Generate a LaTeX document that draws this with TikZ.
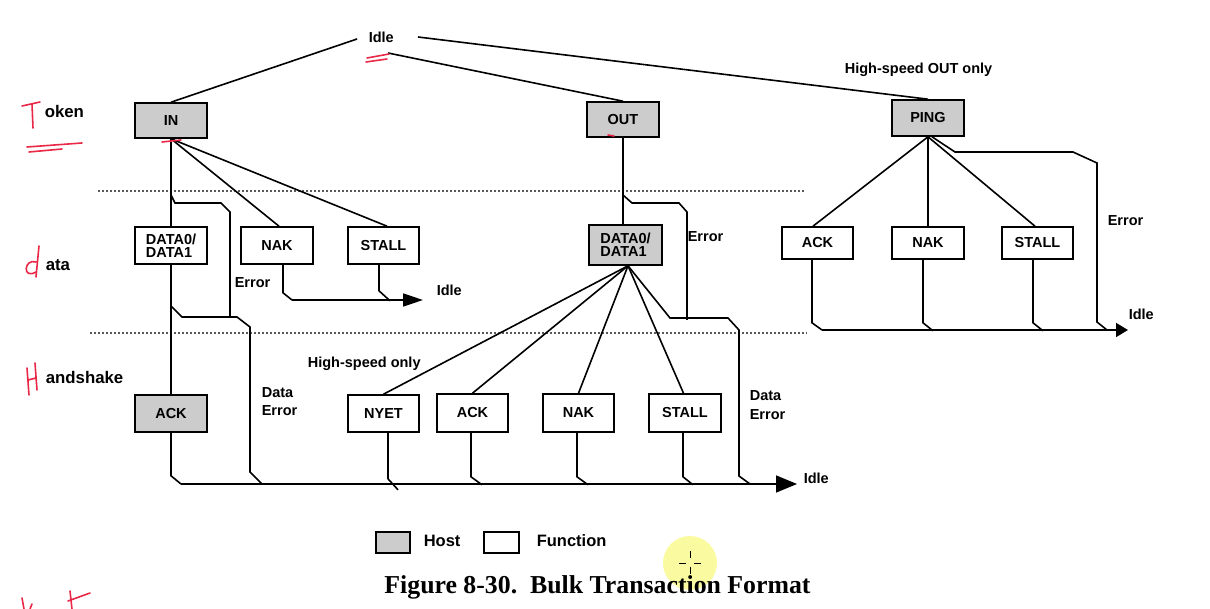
\documentclass[tikz,border=0pt]{standalone}
\usepackage{fontspec}
\setmainfont{Liberation Sans}
\newfontfamily\capfont{Liberation Serif}
\usetikzlibrary{arrows.meta}
\definecolor{boxgray}{RGB}{204,204,204}
\definecolor{penred}{RGB}{232,40,70}
\definecolor{cursor}{RGB}{250,250,160}
\begin{document}
\begin{tikzpicture}[x=1pt,y=-1pt,line width=1.6pt,
  box/.style={draw,line width=1.6pt,inner sep=0pt,minimum width=71pt,
    font=\bfseries\fontsize{14.5}{13}\selectfont,align=left},
  host/.style={box,fill=boxgray},
  func/.style={box,fill=white},
  lbl/.style={anchor=base west,inner sep=0pt,align=left,
    font=\bfseries\fontsize{14.5}{18}\selectfont},
  side/.style={lbl,font=\bfseries\fontsize{16.8}{18}\selectfont},
  leg/.style={lbl,font=\bfseries\fontsize{16.5}{18}\selectfont},
  sep/.style={line width=1.2pt,black!65,dash pattern=on 1.5pt off 2.5pt},
  pen/.style={draw=penred,line width=1.6pt,line cap=round,line join=round},
  bigtip/.style={-{Triangle[length=21pt,width=17pt]}},
  midtip/.style={-{Triangle[length=20pt,width=13pt]}},
  smalltip/.style={-{Triangle[length=12pt,width=14pt]}}
]
\useasboundingbox (0,0) rectangle (1210,609);

% cursor highlight
\fill[cursor] (690,563) circle (27);
\draw[line width=0.8pt] (690,551) -- (690,558) (690,567) -- (690,574)
  (679,563) -- (686,563) (694,563) -- (701,563);

% separators
\draw[sep] (98,191) -- (805,191);
\draw[sep] (90,333) -- (807,333);

% token row
\node[host,minimum height=35pt,minimum width=72pt] (in)   at (171,120.5) {IN};
\node[host,minimum height=35pt,minimum width=72pt] (out)  at (623,119.5) {OUT};
\node[host,minimum height=36pt,minimum width=72pt] (ping) at (928,118) {PING};

% data row
\node[func,minimum height=37pt,minimum width=72pt] (d1)     at (171,245.5) {DATA0/\\DATA1};
\node[func,minimum height=37pt,minimum width=72pt] (nak1) at (277,245.5) {NAK};
\node[func,minimum height=37pt] (stall1) at (383.5,245.5) {STALL};
\node[host,minimum height=40pt,minimum width=73pt] (d2) at (625.5,245) {DATA0/\\DATA1};
\node[func,minimum height=32pt] (ack3)   at (817.5,243) {ACK};
\node[func,minimum height=32pt,minimum width=72pt] (nak3)   at (928,243) {NAK};
\node[func,minimum height=32pt] (stall3) at (1037.5,243) {STALL};

% handshake row
\node[host,minimum height=37pt,minimum width=72pt] (ack1)   at (171,413.5) {ACK};
\node[func,minimum height=37pt] (nyet)   at (383.5,413.5) {NYET};
\node[func,minimum height=38pt] (ack2)   at (472.5,413) {ACK};
\node[func,minimum height=38pt] (nak2)   at (578.5,413) {NAK};
\node[func,minimum height=38pt,minimum width=72pt] (stall2) at (685,413) {STALL};

% labels
\node[lbl] (idle0) at (368,43) {Idle};
\node[side] (tok) at (44,118) {oken};
\node[side] (dat) at (45,271) {ata};
\node[side] (hsk) at (45,384) {andshake};
\node[lbl] (hsout) at (844,74) {High-speed OUT only};
\node[lbl] (err1) at (234,288) {Error};
\node[lbl] (idle1) at (436,296) {Idle};
\node[lbl] (err2) at (687,242) {Error};
\node[lbl] (err3) at (1107,226) {Error};
\node[lbl] (idle3) at (1128,320) {Idle};
\node[lbl] (hsonly) at (307,368) {High-speed only};
\node[lbl] (de1) at (261,416) {Data\\Error};
\node[lbl] (de2) at (749,419) {Data\\Error};
\node[lbl] (idle2) at (803,483) {Idle};

% legend
\node[host,minimum width=34pt,minimum height=21pt] (lh) at (393,542.5) {};
\node[leg] (lht) at (423,546) {Host};
\node[func,minimum width=35pt,minimum height=21pt] (lf) at (501.5,542.5) {};
\node[leg] (lft) at (536,546) {Function};
\node[anchor=base,inner sep=0pt,font=\capfont\bfseries\fontsize{25.8}{28}\selectfont]
  (cap) at (597.5,593) {Figure 8-30.\hspace{0.5em}Bulk Transaction Format};

% Idle -> tokens
\coordinate (idleL) at (357,39);
\coordinate (idleR) at (418,37);
\coordinate (idleB) at (388,53);
\draw (idleL) -- (in.north);
\draw (idleB) -- (out.north);
\draw (idleR) -- (ping.north);

% IN branch
\draw (in.south) -- (d1.north);
\draw (in.south) -- ([xshift=2pt]nak1.north);
\draw (in.south) -- ([xshift=3.5pt]stall1.north);
\coordinate (e1) at (171,195);
\draw (e1) -- (175,203) -- (221,203) -- (230,212) -- (230,317);
\draw (d1.south) -- (ack1.north);
\coordinate (d1b) at (171,306);
\draw (d1b) -- (182,317) -- (237,317) -- (250,327) -- (250,472) -- (262,484);

% NAK/STALL -> Idle (data row)
\coordinate (la0) at (292,300);
\coordinate (laT) at (423,300);
\draw[midtip] (la0) -- (laT);
\draw ([xshift=6pt]nak1.south) -- ++(0,28) -- (la0);
\draw ([xshift=-4.5pt]stall1.south) -- ++(0,26) -- ++(11,10);

% OUT branch
\draw (out.south) -- (out.south |- d2.north);
\coordinate (e2) at (623,195);
\draw (e2) -- (632,203) -- (679,203) -- (687,212) -- (687,320);
\coordinate (d2s) at ([xshift=2.5pt]d2.south);
\draw (d2s) -- (nyet.north);
\draw (d2s) -- (ack2.north);
\draw (d2s) -- (nak2.north);
\draw (d2s) -- ([xshift=-1.5pt]stall2.north);
\draw (d2s) -- (670,318) -- (728,318) -- (739,330) -- (739,476) -- (750,484);

% handshake -> Idle
\coordinate (m0) at (181,484);
\coordinate (mT) at (797,484);
\draw[bigtip] (m0) -- (mT);
\draw (ack1.south) -- ++(0,43) -- (m0);
\draw ([xshift=4.5pt]nyet.south) -- ++(0,46) -- ++(10,11);
\draw ([xshift=-1.5pt]ack2.south) -- ++(0,44) -- ++(11,8);
\draw ([xshift=-1.5pt]nak2.south) -- ++(0,44) -- ++(11,8);
\draw ([xshift=-2pt]stall2.south) -- ++(0,44) -- ++(10,8);

% PING branch
\draw (ping.south) -- ([xshift=-4.5pt]ack3.north);
\draw (ping.south) -- (nak3.north);
\draw (ping.south) -- ([xshift=-2.5pt]stall3.north);
\draw ([xshift=4pt]ping.south) -- (955,152) -- (1073,152) -- (1097,163) -- (1097,322) -- (1107,330);
\coordinate (r0) at (822,330);
\coordinate (rT) at (1128,330);
\draw[smalltip] (r0) -- (rT);
\draw ([xshift=-5.5pt]ack3.south) -- ++(0,63) -- (r0);
\draw ([xshift=-5pt]nak3.south) -- ++(0,63) -- ++(10,8);
\draw ([xshift=-4.5pt]stall3.south) -- ++(0,63) -- ++(10,8);

% handwritten red annotations
\draw[pen] (22,106) -- (40,102) (32,104) -- (33,128);
\draw[pen] (27,147) -- (82,143) (29,152) -- (62,149);
\draw[pen] (366,62) -- (387,59) (367,58) -- (389,54);
\draw[pen] (162,142) -- (181,140);
\draw[pen] (608,135) -- (614,136);
\draw[pen] (39,246) -- (36,277) (36,262) .. controls (24,258) and (22,280) .. (36,272);
\draw[pen] (27,368) -- (29,395) (35,363) -- (37,390) (28,380) -- (36,378);
\draw[pen] (22,598) -- (24,609) (32,604) -- (30,609);
\draw[pen] (70,591) -- (72,609) (68,601) -- (90,593);
\end{tikzpicture}
\end{document}
